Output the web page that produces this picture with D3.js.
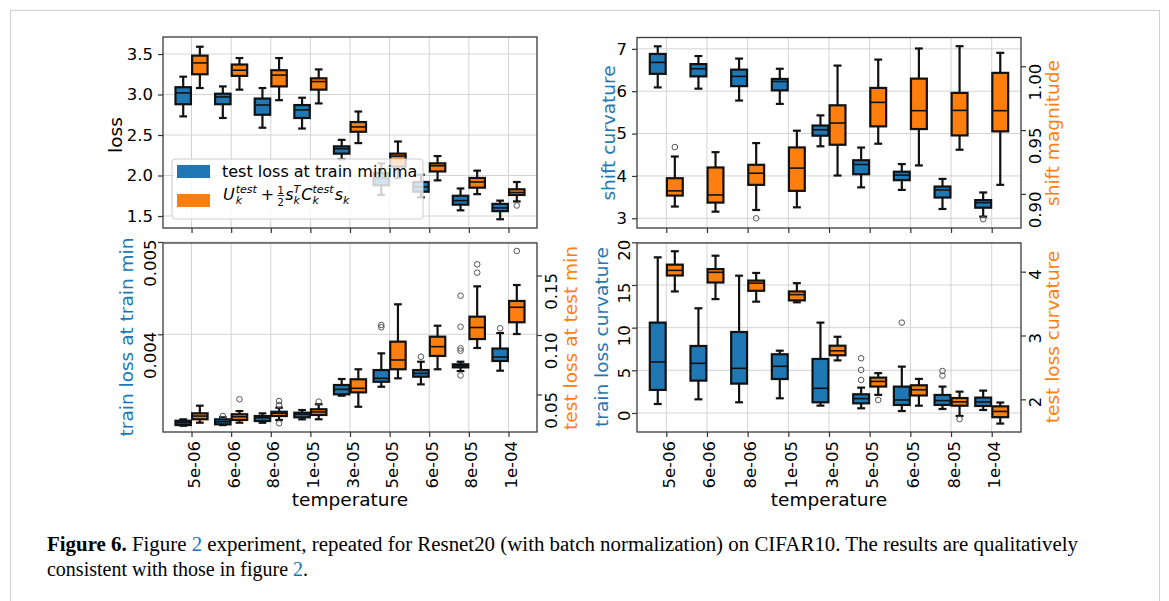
<!DOCTYPE html>
<html>
<head>
<meta charset="utf-8">
<script src="https://cdn.jsdelivr.net/npm/d3@7"></script>
<style>
body { margin: 0; background: #fff; }
svg { display: block; }
text { font-family: "DejaVu Sans", sans-serif; }
</style>
</head>
<body>
<svg id="fig" width="1169" height="601"></svg>
<script>
const temps = ["5e-06", "6e-06", "8e-06", "1e-05", "3e-05", "5e-05", "6e-05", "8e-05", "1e-04"];
// every box: [low whisker, q1, median, q3, high whisker]
const testLossAtTrainMin = [
  [2.73, 2.88, 3.02, 3.09, 3.22], [2.71, 2.88, 2.97, 3.01, 3.10], [2.59, 2.75, 2.87, 2.95, 3.08],
  [2.58, 2.71, 2.81, 2.87, 2.96], [2.20, 2.27, 2.33, 2.36, 2.44], [1.76, 1.88, 1.97, 2.03, 2.15],
  [1.73, 1.80, 1.86, 1.92, 2.01], [1.57, 1.64, 1.69, 1.75, 1.84], [1.46, 1.56, 1.60, 1.65, 1.69]
];
const quadEstimate = [
  [3.08, 3.25, 3.39, 3.48, 3.59], [3.06, 3.23, 3.30, 3.37, 3.45], [2.93, 3.10, 3.24, 3.30, 3.45],
  [2.89, 3.06, 3.16, 3.20, 3.31], [2.40, 2.54, 2.60, 2.66, 2.79], [1.97, 2.11, 2.24, 2.27, 2.42],
  [1.94, 2.05, 2.12, 2.15, 2.24], [1.77, 1.85, 1.92, 1.97, 2.06], [1.68, 1.76, 1.79, 1.83, 1.92]
];
const quadEstimateOut = [[8, 1.63]];

const shiftCurvature = [
  [6.09, 6.41, 6.68, 6.88, 7.06], [6.06, 6.35, 6.53, 6.64, 6.83], [5.78, 6.12, 6.35, 6.51, 6.77],
  [5.70, 6.02, 6.23, 6.29, 6.53], [4.70, 4.95, 5.09, 5.19, 5.43], [3.73, 4.04, 4.27, 4.37, 4.67],
  [3.67, 3.90, 4.02, 4.10, 4.28], [3.22, 3.49, 3.67, 3.75, 3.93], [3.04, 3.25, 3.37, 3.43, 3.61]
];
const shiftCurvatureOut = [[8, 2.98]];
const shiftMagnitude = [
  [0.8901, 0.8987, 0.9024, 0.9123, 0.9293], [0.8861, 0.8932, 0.8992, 0.9207, 0.9327],
  [0.8874, 0.9071, 0.9162, 0.9228, 0.9398], [0.8895, 0.9024, 0.9202, 0.9364, 0.9495],
  [0.9144, 0.9385, 0.9555, 0.9694, 1.0005], [0.9393, 0.9529, 0.9717, 0.9830, 1.0052],
  [0.9223, 0.9508, 0.9652, 0.9903, 1.0139], [0.9346, 0.9458, 0.9654, 0.9791, 1.0157],
  [0.9071, 0.9490, 0.9652, 0.9948, 1.0105]
];
const shiftMagnitudeOut = [[0, 0.9367], [2, 0.8809]];

const trainLossAtTrainMin = [
  [0.003010, 0.003017, 0.003042, 0.003064, 0.003079], [0.003017, 0.003025, 0.003053, 0.003079, 0.003101],
  [0.003042, 0.003061, 0.003096, 0.003115, 0.003144], [0.003079, 0.003101, 0.003133, 0.003151, 0.003180],
  [0.003335, 0.003350, 0.003404, 0.003451, 0.003516], [0.003432, 0.003486, 0.003523, 0.003613, 0.003794],
  [0.003458, 0.003541, 0.003577, 0.003613, 0.003703], [0.003602, 0.003642, 0.003660, 0.003675, 0.003703],
  [0.003606, 0.003711, 0.003754, 0.003846, 0.004014]
];
const trainLossOut = [[1, 0.003115], [5, 0.004101], [5, 0.004076], [6, 0.003757], [7, 0.004418],
  [7, 0.004082], [7, 0.003848], [7, 0.003822], [7, 0.003554], [8, 0.004065]];
const testLossAtTestMin = [
  [0.0263, 0.0292, 0.0319, 0.0342, 0.0406], [0.0263, 0.0286, 0.0313, 0.0334, 0.0361],
  [0.0286, 0.0319, 0.0342, 0.0355, 0.0389], [0.0292, 0.0328, 0.0353, 0.0376, 0.0418],
  [0.0397, 0.0518, 0.0552, 0.0628, 0.0712], [0.0636, 0.0712, 0.0790, 0.0944, 0.1258],
  [0.0712, 0.0824, 0.0902, 0.0986, 0.1078], [0.0891, 0.0966, 0.1063, 0.1154, 0.1409],
  [0.1008, 0.1107, 0.1233, 0.1286, 0.1420]
];
const testLossOut = [[1, 0.0460], [2, 0.0445], [2, 0.0412], [2, 0.0258], [3, 0.0440],
  [7, 0.1594], [7, 0.1524], [8, 0.1706]];

const trainCurvature = [
  [1.05, 2.70, 5.98, 10.59, 18.24], [1.60, 3.79, 5.82, 7.85, 12.27], [1.25, 3.44, 5.23, 9.49, 16.09],
  [1.72, 3.98, 5.47, 6.88, 7.30], [0.86, 1.25, 2.89, 6.33, 10.59], [0.55, 1.13, 1.68, 2.19, 2.97],
  [0.23, 0.94, 1.52, 3.09, 5.43], [0.47, 0.94, 1.45, 2.11, 3.09], [0.35, 0.82, 1.29, 1.80, 2.62]
];
const trainCurvatureOut = [[5, 6.41], [5, 5.04], [5, 3.87], [6, 10.59], [7, 4.92], [7, 4.38]];
const testCurvature = [
  [3.69, 3.94, 4.02, 4.11, 4.32], [3.57, 3.83, 3.99, 4.04, 4.25], [3.53, 3.70, 3.82, 3.86, 3.98],
  [3.52, 3.55, 3.64, 3.69, 3.82], [2.61, 2.69, 2.76, 2.84, 2.98], [2.07, 2.20, 2.28, 2.34, 2.41],
  [1.90, 2.06, 2.15, 2.22, 2.32], [1.74, 1.90, 1.96, 2.02, 2.12], [1.62, 1.72, 1.81, 1.89, 1.95]
];
const testCurvatureOut = [[5, 1.99], [7, 1.69]];

const blue = "#1f77b4", orange = "#ff7f0e";

const svg = d3.select("#fig");
svg.append("rect").attr("x", 10.5).attr("y", 10.5).attr("width", 1149).attr("height", 640)
  .attr("fill", "none").attr("stroke", "#cfcfcf");

const panels = [
  { x0: 163, x1: 537, y0: 37, y1: 228, xlabels: false, legend: true,
    left: { domain: [1.352, 3.71], ticks: [1.5, 2, 2.5, 3, 3.5], fmt: d3.format(".1f"), rot: false,
            label: "loss", color: "#000", lx: 122, ly: 135 },
    series: [
      { data: testLossAtTrainMin, out: [], side: "left", off: -0.21, color: blue },
      { data: quadEstimate, out: quadEstimateOut, side: "left", off: 0.21, color: orange }
    ] },
  { x0: 637, x1: 1021, y0: 37.5, y1: 228, xlabels: false,
    left: { domain: [2.771, 7.268], ticks: [3, 4, 5, 6, 7], fmt: d3.format("d"), rot: false,
            label: "shift curvature", color: blue, lx: 615, ly: 133 },
    right: { domain: [0.8733, 1.0225], ticks: [0.90, 0.95, 1.00], fmt: d3.format(".2f"),
             label: "shift magnitude", color: orange, lx: 1059, ly: 133 },
    series: [
      { data: shiftCurvature, out: shiftCurvatureOut, side: "left", off: -0.21, color: blue },
      { data: shiftMagnitude, out: shiftMagnitudeOut, side: "right", off: 0.21, color: orange }
    ] },
  { x0: 163, x1: 537, y0: 243, y1: 432, xlabels: true,
    left: { domain: [0.002942, 0.004989], ticks: [0.004, 0.005], fmt: d3.format(".3f"), rot: true,
            label: "train loss at train min", color: blue, lx: 133, ly: 337 },
    right: { domain: [0.01849, 0.17731], ticks: [0.05, 0.10, 0.15], fmt: d3.format(".2f"),
             label: "test loss at test min", color: orange, lx: 577, ly: 338 },
    series: [
      { data: trainLossAtTrainMin, out: trainLossOut, side: "left", off: -0.21, color: blue },
      { data: testLossAtTestMin, out: testLossOut, side: "right", off: 0.21, color: orange }
    ] },
  { x0: 637, x1: 1021, y0: 243, y1: 432, xlabels: true,
    left: { domain: [-2.23, 19.92], ticks: [0, 5, 10, 15, 20], fmt: d3.format("d"), rot: true,
            label: "train loss curvature", color: blue, lx: 608, ly: 337 },
    right: { domain: [1.488, 4.449], ticks: [2, 3, 4], fmt: d3.format("d"),
             label: "test loss curvature", color: orange, lx: 1059, ly: 337 },
    series: [
      { data: trainCurvature, out: trainCurvatureOut, side: "left", off: -0.21, color: blue },
      { data: testCurvature, out: testCurvatureOut, side: "right", off: 0.21, color: orange }
    ] }
];

function drawBoxes(g, s, x, y) {
  const bw = x(0.39) - x(0);
  const gs = g.append("g");
  s.data.forEach((d, i) => {
    const cx = x(i + s.off);
    const [lo, q1, md, q3, hi] = d;
    const line = (x1, y1, x2, y2, w) => gs.append("line").attr("x1", x1).attr("y1", y1)
      .attr("x2", x2).attr("y2", y2).attr("stroke", "#111").attr("stroke-width", w || 2.2);
    line(cx, y(q3), cx, y(hi));
    line(cx, y(q1), cx, y(lo));
    line(cx - bw / 4, y(hi), cx + bw / 4, y(hi));
    line(cx - bw / 4, y(lo), cx + bw / 4, y(lo));
    gs.append("rect").attr("x", cx - bw / 2).attr("y", y(q3)).attr("width", bw)
      .attr("height", Math.max(1, y(q1) - y(q3))).attr("fill", s.color)
      .attr("stroke", "#111").attr("stroke-width", 2.2);
    line(cx - bw / 2, y(md), cx + bw / 2, y(md), 1.6);
  });
  gs.selectAll("circle").data(s.out).join("circle")
    .attr("cx", d => x(d[0] + s.off)).attr("cy", d => y(d[1])).attr("r", 2.8)
    .attr("fill", "none").attr("stroke", "#555").attr("stroke-width", 1);
}

function styleTicks(ax, rot, side) {
  ax.select(".domain").remove();
  ax.selectAll(".tick line").attr("stroke", "#333").attr("stroke-width", 1.2);
  const t = ax.selectAll(".tick text").attr("font-size", 16.5).attr("fill", "#000")
    .attr("font-family", "DejaVu Sans, sans-serif");
  if (rot) {
    t.attr("x", 0).attr("y", 0).attr("dy", null).attr("text-anchor", "end")
      .attr("transform", side === "left" ? "translate(-7,-3) rotate(-90)" : "translate(20,-3) rotate(-90)");
  }
}

function yLabel(g, cfg) {
  g.append("text").attr("transform", `translate(${cfg.lx},${cfg.ly}) rotate(-90)`)
    .attr("text-anchor", "middle").attr("font-size", 18.5).attr("fill", cfg.color).text(cfg.label);
}

function mathLabel(g, x0, y0) {
  let x = x0;
  const put = (txt, size, dy, italic, px) => g.append("text").attr("x", px).attr("y", y0 + dy)
    .attr("font-size", size).style("font-style", italic ? "italic" : "normal").text(txt)
    .node().getComputedTextLength();
  const stack = (sup, sub) => {
    const a = put(sup, 11, -7, true, x), b = put(sub, 11, 4, true, x);
    x += Math.max(a, b) + 1;
  };
  x += put("U", 16, 0, true, x) + 1;
  stack("test", "k");
  x += 3;
  x += put("+", 16, 0, false, x) + 3;
  g.append("text").attr("x", x + 3.5).attr("y", y0 - 6).attr("font-size", 10).attr("text-anchor", "middle").text("1");
  g.append("line").attr("x1", x).attr("x2", x + 7).attr("y1", y0 - 4.5).attr("y2", y0 - 4.5)
    .attr("stroke", "#000").attr("stroke-width", 0.8);
  g.append("text").attr("x", x + 3.5).attr("y", y0 + 5.5).attr("font-size", 10).attr("text-anchor", "middle").text("2");
  x += 8;
  x += put("s", 16, 0, true, x);
  stack("T", "k");
  x += put("C", 16, 0, true, x);
  stack("test", "k");
  x += put("s", 16, 0, true, x);
  put("k", 11, 4, true, x);
}

panels.forEach(p => {
  const g = svg.append("g");
  const x = d3.scaleLinear().domain([-0.72, 8.72]).range([p.x0, p.x1]);
  const yL = d3.scaleLinear().domain(p.left.domain).range([p.y1, p.y0]);
  const yR = p.right ? d3.scaleLinear().domain(p.right.domain).range([p.y1, p.y0]) : null;

  // grid
  g.append("g").selectAll("line").data(temps).join("line")
    .attr("x1", (d, i) => x(i)).attr("x2", (d, i) => x(i)).attr("y1", p.y0).attr("y2", p.y1)
    .attr("stroke", "#d3d3d3").attr("stroke-width", 1);
  g.append("g").selectAll("line").data(p.left.ticks).join("line")
    .attr("x1", p.x0).attr("x2", p.x1).attr("y1", d => yL(d)).attr("y2", d => yL(d))
    .attr("stroke", "#d3d3d3").attr("stroke-width", 1);

  p.series.forEach(s => drawBoxes(g, s, x, s.side === "left" ? yL : yR));

  // spines
  g.append("rect").attr("x", p.x0).attr("y", p.y0).attr("width", p.x1 - p.x0).attr("height", p.y1 - p.y0)
    .attr("fill", "none").attr("stroke", "#3a3a3a").attr("stroke-width", 1.3);

  // axes
  const axL = g.append("g").attr("transform", `translate(${p.x0},0)`)
    .call(d3.axisLeft(yL).tickValues(p.left.ticks).tickFormat(p.left.fmt).tickSize(5).tickPadding(5));
  styleTicks(axL, p.left.rot, "left");
  yLabel(g, p.left);
  if (p.right) {
    const axR = g.append("g").attr("transform", `translate(${p.x1},0)`)
      .call(d3.axisRight(yR).tickValues(p.right.ticks).tickFormat(p.right.fmt).tickSize(5));
    styleTicks(axR, true, "right");
    yLabel(g, p.right);
  }
  const axB = g.append("g").attr("transform", `translate(0,${p.y1})`)
    .call(d3.axisBottom(x).tickValues(d3.range(temps.length))
      .tickFormat(i => p.xlabels ? temps[i] : "").tickSize(5));
  styleTicks(axB, false);
  if (p.xlabels) {
    axB.selectAll(".tick text").attr("x", 0).attr("y", 0).attr("dy", null).attr("text-anchor", "end")
      .attr("transform", "translate(8,9) rotate(-90)");
    g.append("text").attr("x", (p.x0 + p.x1) / 2).attr("y", 506).attr("text-anchor", "middle")
      .attr("font-size", 18.5).text("temperature");
  }

  if (p.legend) {
    const lg = g.append("g");
    lg.append("rect").attr("x", 172).attr("y", 159).attr("width", 251).attr("height", 60).attr("rx", 3)
      .attr("fill", "#fff").attr("fill-opacity", 0.8).attr("stroke", "#cccccc");
    lg.append("rect").attr("x", 177).attr("y", 165).attr("width", 33).attr("height", 13).attr("fill", blue);
    lg.append("rect").attr("x", 177).attr("y", 194).attr("width", 33).attr("height", 13).attr("fill", orange);
    lg.append("text").attr("x", 222).attr("y", 177).attr("font-size", 16).text("test loss at train minima");
    mathLabel(lg, 223, 200);
  }
});

// caption
const cap = svg.append("g").attr("font-size", 20);
const l1 = cap.append("text").attr("x", 47).attr("y", 551).attr("textLength", 1031)
  .attr("lengthAdjust", "spacingAndGlyphs").style("font-family", "Liberation Serif, serif");
l1.append("tspan").attr("font-weight", "bold").text("Figure 6.");
l1.append("tspan").text(" Figure ");
l1.append("tspan").attr("fill", "#1a73b8").text("2");
l1.append("tspan").text(" experiment, repeated for Resnet20 (with batch normalization) on CIFAR10. The results are qualitatively");
const l2 = cap.append("text").attr("x", 47).attr("y", 576).attr("textLength", 261)
  .attr("lengthAdjust", "spacingAndGlyphs").style("font-family", "Liberation Serif, serif");
l2.append("tspan").text("consistent with those in figure ");
l2.append("tspan").attr("fill", "#1a73b8").text("2");
l2.append("tspan").text(".");
</script>
</body>
</html>
